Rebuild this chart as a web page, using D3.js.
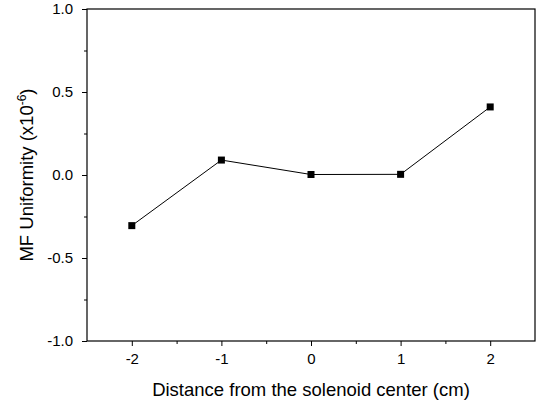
<!DOCTYPE html>
<html>
<head>
<meta charset="utf-8">
<script src="https://cdn.jsdelivr.net/npm/d3@7"></script>
<style>
  body { margin: 0; background: #fff; }
  svg { display: block; font-family: "Liberation Sans", Arial, sans-serif; }
</style>
</head>
<body>
<script>
// values
const distance = [-2, -1, 0, 1, 2];
const uniformity = [-0.305, 0.09, 0.003, 0.004, 0.41];
const xTicks = [-2, -1, 0, 1, 2];
const xMinor = [-1.5, -0.5, 0.5, 1.5];
const yTicks = [-1.0, -0.5, 0.0, 0.5, 1.0];
const yMinor = [-0.75, -0.25, 0.25, 0.75];

const W = 537, H = 403;
const margin = {top: 9, right: 2, bottom: 62, left: 87};
const width = W - margin.left - margin.right;
const height = H - margin.top - margin.bottom;

const svg = d3.select("body").append("svg")
  .attr("width", W)
  .attr("height", H);

const g = svg.append("g")
  .attr("transform", `translate(${margin.left}, ${margin.top})`);

const xScale = d3.scaleLinear().domain([-2.5, 2.5]).range([0, width]);
const yScale = d3.scaleLinear().domain([-1, 1]).range([height, 0]);

// frame
g.append("rect")
  .attr("width", width).attr("height", height)
  .attr("fill", "none").attr("stroke", "#000").attr("stroke-width", 1.2);

const xAxis = d3.axisBottom(xScale).tickValues(xTicks).tickSize(5).tickPadding(7)
  .tickFormat(d => d < 0 ? "-" + Math.abs(d) : d);
const xAxisMinor = d3.axisBottom(xScale).tickValues(xMinor).tickSize(3).tickFormat("");
const yAxis = d3.axisLeft(yScale).tickValues(yTicks).tickSize(5).tickPadding(9)
  .tickFormat(d => (d < 0 ? "-" : "") + Math.abs(d).toFixed(1));
const yAxisMinor = d3.axisLeft(yScale).tickValues(yMinor).tickSize(3).tickFormat("");

g.append("g").attr("class", "axis x")
  .attr("transform", `translate(0, ${height})`)
  .call(xAxis);
g.append("g").attr("class", "axis x minor")
  .attr("transform", `translate(0, ${height})`)
  .call(xAxisMinor);
g.append("g").attr("class", "axis y").call(yAxis);
g.append("g").attr("class", "axis y minor").call(yAxisMinor);

g.selectAll(".axis .domain").remove();
g.selectAll(".axis line").attr("stroke", "#000").attr("stroke-width", 1);
g.selectAll(".axis text")
  .attr("fill", "#000")
  .style("font-size", "15px")
  .style("font-family", "Liberation Sans, Arial, sans-serif");

// series
const pts = distance.map((d, i) => ({x: d, y: uniformity[i]}));

const line = d3.line()
  .x(d => xScale(d.x))
  .y(d => yScale(d.y));

g.append("path")
  .datum(pts)
  .attr("fill", "none")
  .attr("stroke", "#000")
  .attr("stroke-width", 1)
  .attr("d", line);

const s = 7;
g.selectAll(".pt")
  .data(pts)
  .join("rect")
  .attr("class", "pt")
  .attr("x", d => xScale(d.x) - s / 2)
  .attr("y", d => yScale(d.y) - s / 2)
  .attr("width", s)
  .attr("height", s)
  .attr("fill", "#000");

// axis titles
svg.append("text")
  .attr("x", margin.left + xScale(0))
  .attr("y", 396)
  .attr("text-anchor", "middle")
  .style("font-size", "18.5px")
  .text("Distance from the solenoid center (cm)");

const yt = svg.append("text")
  .attr("transform", `translate(33, ${margin.top + height / 2}) rotate(-90)`)
  .attr("text-anchor", "middle")
  .style("font-size", "18.5px");
yt.append("tspan").text("MF Uniformity (x10");
yt.append("tspan").attr("dy", -7).style("font-size", "12px").text("-6");
yt.append("tspan").attr("dy", 7).text(")");
</script>
</body>
</html>
